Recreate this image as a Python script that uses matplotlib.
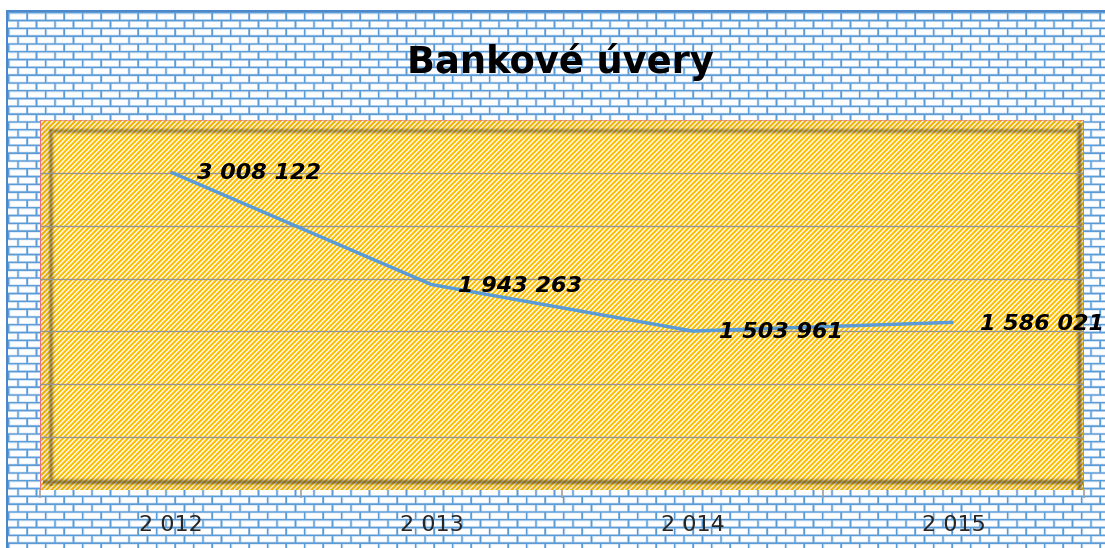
import numpy as np
import matplotlib
matplotlib.use("Agg")
import matplotlib.pyplot as plt
from matplotlib.ticker import FixedLocator

# ---- data ----
years = ["2 012", "2 013", "2 014", "2 015"]
values = [3008122, 1943263, 1503961, 1586021]
title = "Bankové úvery"

W, H = 1105, 548
DPI = 100

# ---- decorative background (brick wall + striped plot area with bevel) ----
SS = 3
yy, xx = np.mgrid[0:H * SS, 0:W * SS].astype(float)
yy = yy / SS + 0.5 / SS
xx = xx / SS + 0.5 / SS

img = np.ones((H * SS, W * SS, 3))
y0, x0 = 12.0, 8.0
rh, bw, mt = 7.8, 18.5, 1.5
ry = (yy - y0) % rh
row = np.floor((yy - y0) / rh)
off = (row % 2) * bw / 2
cx = (xx - x0 + off) % bw
mortar = (ry < mt) | (cx < mt)
halo = (ry < mt + 0.8) | (ry > rh - 0.6) | (cx < mt + 0.8) | (cx > bw - 0.6)
img[halo] = (0.82, 0.89, 0.96)
img[mortar] = (0.36, 0.61, 0.84)
outside = (xx < 7) | (yy < 11)
img[outside] = (1, 1, 1)
border = ((xx >= 6) & (xx < 8) & (yy >= 10)) | ((yy >= 10) & (yy < 12) & (xx >= 6))
img[border] = (0.30, 0.53, 0.79)

# plot area
L, R, T, B = 40, 1084, 120, 490
inside = (xx >= L) & (xx < R) & (yy >= T) & (yy < B)
P = 5.0
stripe = ((xx + yy) % P) < P * 0.6
pa = np.where(stripe[..., None], np.array([1.0, 0.75, 0.0]), np.array([1.0, 1.0, 1.0]))
dl = xx - L
dr = R - xx
dt = yy - T
db = B - yy
def g(d, c, s):
    return np.exp(-((d - c) / s) ** 2)
shade = np.maximum.reduce([
    0.45 * g(dl, 11, 2.5) * (dt > 9) * (db > 4),
    0.40 * g(dt, 11, 2.5) * (dl > 9) * (dr > 4),
    0.50 * g(dr, 4.5, 2.8) * (dt > 3),
    0.50 * g(db, 8.0, 2.8) * (dl > 3),
    0.08 * (dl < 10) * (dt > 0), 0.06 * (dt < 10),
    0.12 * (dr < 4), 0.10 * (db < 7),
])
pa = pa * (1 - shade[..., None]) + np.array([0.25, 0.22, 0.15]) * shade[..., None] * 0.5
img[inside] = pa[inside]

img = img.reshape(H, SS, W, SS, 3).mean(axis=(1, 3))
pink = np.array([0.88, 0.45, 0.55])
img[T:B, L] = pink
img[T:B, R - 1] = pink
img[T, L:R] = 0.6 * pink + 0.4 * img[T, L:R]

fig = plt.figure(figsize=(W / DPI, H / DPI), dpi=DPI)
fig.figimage(img, xo=0, yo=0, origin="upper", zorder=-10)

ax = fig.add_axes([L / W, 1 - B / H, (R - L) / W, (B - T) / H])
ax.set_zorder(1)
ax.patch.set_alpha(0)
for s in ax.spines.values():
    s.set_visible(False)

x = np.arange(len(years))
ax.set_xlim(-0.5, len(years) - 0.5)
ax.set_ylim(0, 3500000)
ax.set_yticks([500000, 1000000, 1500000, 2000000, 2500000, 3000000])
ax.yaxis.grid(True, color="#949494", linewidth=1.0)
ax.set_axisbelow(True)
ax.tick_params(axis="y", left=False, labelleft=False)

ax.set_xticks(x)
ax.set_xticklabels(years, fontsize=16, color="#262626", family="DejaVu Sans")
ax.tick_params(axis="x", which="major", length=0, pad=18)
ax.xaxis.set_minor_locator(FixedLocator(np.arange(-0.5, len(years), 1.0)))
ax.tick_params(axis="x", which="minor", length=5.5, color="#a0a0a0", width=1.2)

ax.plot(x, values, color="#5B9BD5", linewidth=2.5, solid_capstyle="butt", zorder=3)

for xi, v in zip(x, values):
    ax.annotate(f"{v:,}".replace(",", " "), (xi, v), xytext=(19, -1),
                textcoords="offset points", ha="left", va="center",
                fontsize=16, fontweight="bold", fontstyle="italic",
                family="DejaVu Sans", color="black", annotation_clip=False,
                zorder=4)

fig.text(560 / W, 1 - 62 / H, title, ha="center", va="center",
         fontsize=26.5, fontweight="bold", family="DejaVu Sans", color="black")

fig.savefig("out.png", dpi=DPI)
